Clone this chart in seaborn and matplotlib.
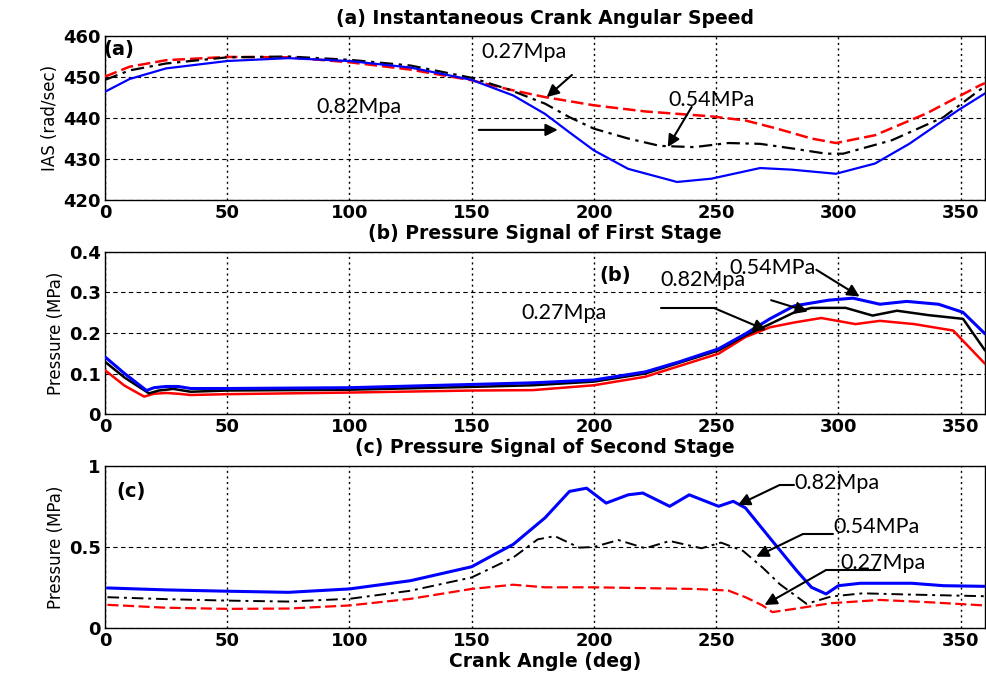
import numpy as np
import pandas as pd
import matplotlib
matplotlib.use("Agg")
import matplotlib.pyplot as plt
import seaborn as sns

# ---------------- data ----------------
# (a) Instantaneous crank angular speed (rad/sec)
ias_x_082 = [0, 10, 25, 50, 75, 100, 125, 150, 167, 180, 190, 200, 214, 234, 248, 268, 281, 299, 315, 329, 349, 360]
ias_082 = [446.4, 449.5, 452.1, 453.9, 454.6, 453.9, 452.3, 449.3, 445.5, 441.0, 436.5, 432.1, 427.6, 424.4, 425.2, 427.8, 427.4, 426.4, 428.9, 433.7, 441.9, 446.0]
ias_x_054 = [0, 10, 25, 50, 75, 100, 125, 150, 165, 180, 190, 200, 214, 227, 241, 255, 268, 282, 295, 302, 322, 343, 360]
ias_054 = [449.3, 451.6, 453.3, 454.8, 455.0, 454.2, 452.8, 449.8, 447.0, 443.5, 440.2, 437.4, 435.0, 433.2, 432.9, 433.9, 433.7, 432.5, 431.3, 431.3, 434.6, 440.2, 447.8]
ias_x_027 = [0, 10, 25, 50, 75, 100, 125, 150, 165, 180, 200, 221, 248, 262, 275, 289, 299, 315, 336, 358, 360]
ias_027 = [450.1, 452.5, 454.1, 454.9, 454.8, 453.6, 451.8, 449.2, 447.0, 445.1, 443.1, 441.6, 440.4, 439.4, 437.4, 435.0, 433.9, 435.8, 441.1, 448.0, 448.5]

# (b) Pressure of first stage (MPa)
p1_x_082 = [0, 8, 17, 20, 25, 30, 35, 50, 100, 150, 175, 200, 221, 235, 251, 262, 272, 282, 296, 306, 317, 328, 341, 351, 360]
p1_082 = [0.141, 0.100, 0.058, 0.065, 0.068, 0.068, 0.063, 0.063, 0.065, 0.073, 0.077, 0.084, 0.104, 0.129, 0.161, 0.198, 0.235, 0.267, 0.281, 0.286, 0.271, 0.278, 0.271, 0.251, 0.198]
p1_x_054 = [0, 8, 18, 22, 28, 35, 50, 100, 150, 175, 200, 221, 251, 262, 272, 282, 289, 303, 314, 324, 337, 351, 360]
p1_054 = [0.129, 0.090, 0.051, 0.058, 0.062, 0.055, 0.058, 0.060, 0.067, 0.071, 0.080, 0.100, 0.157, 0.194, 0.222, 0.251, 0.262, 0.262, 0.243, 0.255, 0.244, 0.235, 0.157]
p1_x_027 = [0, 8, 16, 20, 25, 30, 35, 50, 100, 150, 175, 200, 221, 251, 262, 272, 282, 293, 307, 317, 331, 347, 360]
p1_027 = [0.108, 0.070, 0.043, 0.050, 0.052, 0.050, 0.047, 0.049, 0.053, 0.058, 0.059, 0.071, 0.092, 0.149, 0.190, 0.214, 0.226, 0.237, 0.222, 0.230, 0.222, 0.206, 0.124]

# (c) Pressure of second stage (MPa)
p2_x_082 = [1, 25, 50, 75, 100, 125, 150, 160, 167, 180, 190, 197, 205, 214, 220, 231, 239, 251, 257, 262, 273, 283, 289, 295, 300, 309, 330, 343, 360]
p2_082 = [0.247, 0.235, 0.227, 0.220, 0.241, 0.292, 0.378, 0.460, 0.516, 0.680, 0.843, 0.863, 0.771, 0.822, 0.833, 0.751, 0.822, 0.751, 0.782, 0.741, 0.537, 0.353, 0.251, 0.210, 0.261, 0.276, 0.276, 0.261, 0.257]
p2_x_054 = [1, 25, 50, 75, 100, 125, 150, 167, 177, 184, 194, 200, 210, 221, 231, 244, 252, 261, 269, 276, 287, 297, 310, 330, 360]
p2_054 = [0.190, 0.178, 0.169, 0.163, 0.180, 0.230, 0.312, 0.435, 0.547, 0.567, 0.496, 0.500, 0.543, 0.492, 0.537, 0.492, 0.527, 0.476, 0.373, 0.271, 0.149, 0.194, 0.214, 0.206, 0.196]
p2_x_027 = [1, 25, 50, 75, 100, 125, 150, 167, 180, 200, 241, 255, 262, 269, 273, 282, 297, 317, 337, 360]
p2_027 = [0.143, 0.125, 0.118, 0.120, 0.139, 0.180, 0.241, 0.267, 0.251, 0.251, 0.241, 0.231, 0.190, 0.139, 0.098, 0.118, 0.153, 0.173, 0.159, 0.139]

titles = ["(a) Instantaneous Crank Angular Speed",
          "(b) Pressure Signal of First Stage",
          "(c) Pressure Signal of Second Stage"]
ylabels = ["IAS (rad/sec)", "Pressure (MPa)", "Pressure (MPa)"]
x_ticks = [0, 50, 100, 150, 200, 250, 300, 350]

# ---------------- style ----------------
sns.set_style("white")
plt.rcParams['font.family'] = ['DejaVu Sans']
plt.rcParams['text.color'] = 'black'
plt.rcParams['axes.labelcolor'] = 'black'
plt.rcParams['xtick.color'] = 'black'
plt.rcParams['ytick.color'] = 'black'

fig = plt.figure(figsize=(9.86, 6.73), dpi=100)
left, right = 0.1065, 0.999
axA = fig.add_axes([left, 0.7028, right - left, 0.9465 - 0.7028])
axB = fig.add_axes([left, 0.3848, right - left, 0.6256 - 0.3848])
axC = fig.add_axes([left, 0.0669, right - left, 0.3076 - 0.0669])

def frame(xs, ys, name):
    return pd.DataFrame({"angle": xs, "value": ys, "series": name})

def draw(ax, sets, styles):
    for (xs, ys, name), (col, ls, lw) in zip(sets, styles):
        sns.lineplot(data=frame(xs, ys, name), x="angle", y="value", ax=ax,
                     color=col, linestyle=ls, linewidth=lw, legend=False, zorder=3)

dashdot = (0, (6, 2.5, 1.5, 2.5))
dashed = (0, (5, 2))
draw(axA, [(ias_x_027, ias_027, "0.27"), (ias_x_054, ias_054, "0.54"), (ias_x_082, ias_082, "0.82")],
     [("red", dashed, 1.8), ("black", dashdot, 1.6), ("blue", "-", 1.6)])
draw(axB, [(p1_x_027, p1_027, "0.27"), (p1_x_054, p1_054, "0.54"), (p1_x_082, p1_082, "0.82")],
     [("red", "-", 1.8), ("black", "-", 1.8), ("blue", "-", 2.2)])
draw(axC, [(p2_x_027, p2_027, "0.27"), (p2_x_054, p2_054, "0.54"), (p2_x_082, p2_082, "0.82")],
     [("red", dashed, 1.6), ("black", dashdot, 1.4), ("blue", "-", 2.2)])

ylims = [(420, 460), (0, 0.4), (0, 1)]
yticks = [[420, 430, 440, 450, 460], [0, 0.1, 0.2, 0.3, 0.4], [0, 0.5, 1]]
ytl = [["420", "430", "440", "450", "460"], ["0", "0.1", "0.2", "0.3", "0.4"], ["0", "0.5", "1"]]

for ax, t, yl, lim, yt, ylab in zip([axA, axB, axC], titles, ylabels, ylims, yticks, ytl):
    ax.set_xlim(0, 360)
    ax.set_ylim(*lim)
    ax.set_xticks(x_ticks)
    ax.set_xticklabels([str(v) for v in x_ticks], fontsize=13, fontweight="bold")
    ax.set_yticks(yt)
    ax.set_yticklabels(ylab, fontsize=13, fontweight="bold")
    ax.set_title(t, fontsize=13.5, fontweight="bold", pad=9, color="black")
    ax.set_ylabel(yl, fontsize=12, labelpad=3)
    ax.set_xlabel("")
    ax.tick_params(direction="in", length=4, width=0.8, pad=3)
    ax.grid(True, axis="x", linestyle=(0, (1.5, 2.5)), color="black", linewidth=1.0, zorder=1)
    ax.grid(True, axis="y", linestyle=(0, (4, 3)), color="black", linewidth=0.8, zorder=1)
    for s in ax.spines.values():
        s.set_color("black")
        s.set_linewidth(1.0)
        s.set_visible(True)
    ax.set_axisbelow(True)

axC.set_xlabel("Crank Angle (deg)", fontsize=13.5, fontweight="bold", labelpad=1)

ann_font = dict(fontsize=15.5, family=["Lato", "DejaVu Sans"], color="black")
lab_font = dict(fontsize=14, fontweight="bold", family=["DejaVu Sans"], color="black")
arrow = dict(arrowstyle="-|>", color="black", lw=1.5, mutation_scale=18, shrinkA=0, shrinkB=0)

# panel (a)
axA.text(-0.8, 456.6, "(a)", va="center", ha="left", **lab_font)
axA.text(154, 456.1, "0.27Mpa", va="center", ha="left", **ann_font)
axA.annotate("", xy=(180.7, 445.1), xytext=(191, 450.5), arrowprops=arrow)
axA.text(86.3, 442.7, "0.82Mpa", va="center", ha="left", **ann_font)
axA.annotate("", xy=(185.2, 437.1), xytext=(152.9, 437.1), arrowprops=arrow)
axA.text(230.6, 444.4, "0.54MPa", va="center", ha="left", **ann_font)
axA.annotate("", xy=(230.2, 432.9), xytext=(240, 442.7), arrowprops=arrow)

# panel (b)
axB.text(202.4, 0.343, "(b)", va="center", ha="left", **lab_font)
axB.text(255.5, 0.360, "0.54MPa", va="center", ha="left", **ann_font)
axB.annotate("", xy=(308.7, 0.290), xytext=(291, 0.356), arrowprops=arrow)
axB.text(227, 0.331, "0.82Mpa", va="center", ha="left", **ann_font)
axB.annotate("", xy=(287.5, 0.253), xytext=(272.5, 0.281), arrowprops=arrow)
axB.text(170.3, 0.249, "0.27Mpa", va="center", ha="left", **ann_font)
axB.plot([227.6, 249.4], [0.261, 0.261], color="black", lw=1.5)
axB.annotate("", xy=(270.5, 0.207), xytext=(249.4, 0.261), arrowprops=arrow)

# panel (c)
axC.text(4.8, 0.841, "(c)", va="center", ha="left", **lab_font)
axC.text(282, 0.893, "0.82Mpa", va="center", ha="left", **ann_font)
axC.plot([276, 282], [0.883, 0.883], color="black", lw=1.5)
axC.annotate("", xy=(258.9, 0.759), xytext=(276, 0.883), arrowprops=arrow)
axC.text(297.8, 0.622, "0.54MPa", va="center", ha="left", **ann_font)
axC.plot([285.5, 297.8], [0.580, 0.580], color="black", lw=1.5)
axC.annotate("", xy=(266.4, 0.44), xytext=(285.5, 0.580), arrowprops=arrow)
axC.text(301, 0.403, "0.27Mpa", va="center", ha="left", **ann_font)
axC.plot([295, 317], [0.358, 0.358], color="black", lw=1.5)
axC.annotate("", xy=(269.8, 0.142), xytext=(295, 0.358), arrowprops=arrow)

fig.savefig("out.png", dpi=100)
